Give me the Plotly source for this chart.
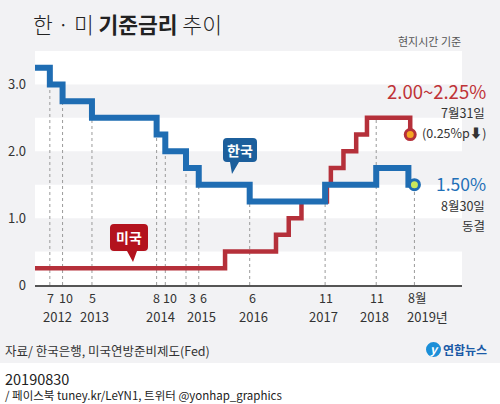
import plotly.graph_objects as go

# ---------------- data ----------------
KR_DATES = ["2012-03-28", "2012-07-12", "2012-10-11", "2013-05-09", "2014-08-14",
            "2014-10-15", "2015-03-12", "2015-06-11", "2016-06-09", "2017-11-30",
            "2018-11-30", "2019-07-18", "2019-08-30"]
KR_RATES = [3.25, 3.00, 2.75, 2.50, 2.25, 2.00, 1.75, 1.50, 1.25, 1.50, 1.75, 1.50, 1.50]

US_DATES = ["2012-03-28", "2015-12-16", "2016-12-14", "2017-03-15", "2017-06-14",
            "2017-12-13", "2018-01-10", "2018-04-10", "2018-07-10", "2018-09-25",
            "2019-07-31"]
US_RATES = [0.25, 0.50, 0.75, 1.00, 1.25, 1.50, 1.75, 2.00, 2.25, 2.50, 2.25]

GUIDE_DATES = ["2012-07-12", "2012-10-11", "2013-05-09", "2014-08-14", "2014-10-15",
               "2015-03-12", "2015-06-11", "2016-06-09", "2017-11-30", "2018-11-30",
               "2019-08-30"]
GUIDE_TOPS = [3.00, 2.75, 2.50, 2.25, 2.00, 1.75, 1.50, 1.25, 1.50, 2.50, 1.50]

MONTH_LABELS = ["7", "10", "5", "8", "10", "3", "6", "6", "11", "11", "8월"]
YEAR_LABELS = ["2012", "2013", "2014", "2015", "2016", "2017", "2018", "2019년"]
YEAR_DATES = ["2012-09-08", "2013-05-30", "2014-09-13", "2015-07-01", "2016-07-08",
              "2017-11-15", "2018-11-20", "2019-12-05"]

Y_TICKS = [0, 1, 2, 3]
Y_TICK_TEXT = ["0", "1.0", "2.0", "3.0"]
BANDS = [(0.5, 1.0), (1.5, 2.0), (2.5, 3.0)]

X_RANGE = ["2012-03-28", "2020-08-04"]
Y_RANGE = [0, 3.5]

# ---------------- layout helpers ----------------
W, H = 500, 404
L, R, T, B = 35, 38, 51, 119
PW, PH = W - L - R, H - T - B
FONT = "Noto Sans CJK KR, Noto Sans, sans-serif"
BLUE = "#1f6db3"
RED = "#b5303a"
BG = "#f2f2f4"
# small horizontal nudges (px) of month labels to avoid collisions
MONTH_NUDGE = [1, 3, 1, 0, 5, 6, 5, 3, 1, 1, 3]


def px(x):
    return (x - L) / PW


def py(y):
    return (H - B - y) / PH


def pt(x, y):
    return f"{px(x):.5f},{py(y):.5f}"


def bubble(x0, y0, x1, y1, r, tx0, tx1, tipx, tipy):
    return ("M" + pt(x0 + r, y0) + " L" + pt(x1 - r, y0) + " Q" + pt(x1, y0) + " " + pt(x1, y0 + r)
            + " L" + pt(x1, y1 - r) + " Q" + pt(x1, y1) + " " + pt(x1 - r, y1)
            + " L" + pt(tx1, y1) + " L" + pt(tipx, tipy) + " L" + pt(tx0, y1)
            + " L" + pt(x0 + r, y1) + " Q" + pt(x0, y1) + " " + pt(x0, y1 - r)
            + " L" + pt(x0, y0 + r) + " Q" + pt(x0, y0) + " " + pt(x0 + r, y0) + " Z")


fig = go.Figure()

# US line (under) and Korea line (over)
fig.add_trace(go.Scatter(x=US_DATES, y=US_RATES, mode="lines", line_shape="hv",
                         line=dict(color=RED, width=4.5), hoverinfo="skip"))
fig.add_trace(go.Scatter(x=KR_DATES, y=KR_RATES, mode="lines", line_shape="hv",
                         line=dict(color=BLUE, width=6), hoverinfo="skip"))
# end markers
fig.add_trace(go.Scatter(x=US_DATES[-1:], y=US_RATES[-1:], mode="markers",
                         marker=dict(size=10, color="#f5a623", line=dict(color=RED, width=3)),
                         hoverinfo="skip"))
fig.add_trace(go.Scatter(x=KR_DATES[-1:], y=KR_RATES[-1:], mode="markers",
                         marker=dict(size=10, color="#c9e85c", line=dict(color=BLUE, width=3)),
                         hoverinfo="skip"))

shapes = []
# outer bottom white strip
shapes.append(dict(type="rect", xref="paper", yref="paper", x0=px(0), x1=px(W), y0=py(363), y1=py(H),
                   fillcolor="white", line=dict(width=0), layer="below"))
# bands
for b0, b1 in BANDS:
    shapes.append(dict(type="rect", xref="paper", yref="y", x0=0, x1=1, y0=b0, y1=b1,
                       fillcolor=BG, line=dict(width=0), layer="below"))
# dotted guides
for d, top in zip(GUIDE_DATES, GUIDE_TOPS):
    shapes.append(dict(type="line", xref="x", yref="y", x0=d, x1=d, y0=0, y1=top,
                       line=dict(color="#9a9a9a", width=1, dash="dot"), layer="below"))
# speech bubbles
shapes.append(dict(type="path", xref="paper", yref="paper",
                   path=bubble(223, 138, 257, 162, 4, 230, 239, 232, 174),
                   fillcolor="#1c5f9c", line=dict(width=0)))
shapes.append(dict(type="path", xref="paper", yref="paper",
                   path=bubble(110, 224, 148, 251, 4, 127, 137, 133, 262),
                   fillcolor="#b3121d", line=dict(width=0)))
# logo circle
shapes.append(dict(type="circle", xref="paper", yref="paper",
                   x0=px(426), x1=px(441), y0=py(342), y1=py(357),
                   fillcolor="#1b8fd8", line=dict(width=0)))

ann = []


def text(s, x, y, size, color="#333", xanchor="left", yanchor="middle", xref="paper", **kw):
    ann.append(dict(text=s, x=px(x) if xref == "paper" else x, y=py(y), xref=xref, yref="paper",
                    xanchor=xanchor, yanchor=yanchor, showarrow=False,
                    font=dict(family=FONT, size=size, color=color, **kw)))


text("한 · 미 <b>기준금리</b> 추이", 31, 24, 21.5, "#222", weight=300)
text("현지시간 기준", 463, 41, 11, "#555", xanchor="right")

text("2.00~2.25%", 488, 91, 18.5, "#bf3337", xanchor="right")
text("7월31일", 487, 112, 12.5, "#333", xanchor="right")
text("(0.25%p<b>⬇</b>)", 489, 132, 12.5, "#333", xanchor="right")
text("1.50%", 488, 183, 17.5, "#1f70b8", xanchor="right")
text("8월30일", 487, 205, 12.5, "#333", xanchor="right")
text("동결", 487, 225, 12.5, "#333", xanchor="right")

text("<b>한국</b>", 240, 150, 14, "white", xanchor="center")
text("<b>미국</b>", 129, 237, 14, "white", xanchor="center")

for lab, d, nx in zip(MONTH_LABELS, GUIDE_DATES, MONTH_NUDGE):
    ann.append(dict(text=lab, x=d, y=py(297), xref="x", yref="paper", xanchor="center",
                    yanchor="middle", xshift=nx, showarrow=False,
                    font=dict(family=FONT, size=12.5, color="#333")))
for lab, d in zip(YEAR_LABELS, YEAR_DATES):
    ann.append(dict(text=lab, x=d, y=py(316), xref="x", yref="paper", xanchor="center",
                    yanchor="middle", showarrow=False,
                    font=dict(family=FONT, size=13, color="#333")))

text("자료/ 한국은행, 미국연방준비제도(Fed)", 3, 350, 12.5, "#333")
text("<b><i>y</i></b>", 433.5, 348, 12, "white", xanchor="center")
text("<b>연합뉴스</b>", 441, 349, 12, "#1b5aa6")
text("20190830", 3, 378, 14.5, "#222")
text("/ 페이스북 tuney.kr/LeYN1, 트위터 @yonhap_graphics", 3, 395, 11.5, "#222")

fig.update_layout(
    width=W, height=H, margin=dict(l=L, r=R, t=T, b=B, pad=0, autoexpand=False),
    paper_bgcolor=BG, plot_bgcolor="white", showlegend=False,
    shapes=shapes, annotations=ann,
    xaxis=dict(type="date", range=X_RANGE, showgrid=False, zeroline=False, automargin=False,
               showticklabels=False, ticks="", showline=True, linecolor="#555", linewidth=1.5,
               fixedrange=True),
    yaxis=dict(range=Y_RANGE, tickvals=Y_TICKS, ticktext=Y_TICK_TEXT, showgrid=False,
               zeroline=False, showline=False, ticks="", ticklabelstandoff=8, automargin=False,
               tickfont=dict(family=FONT, size=13, color="#333"), fixedrange=True),
)

fig.write_html("out.html", config={"displayModeBar": False},
               post_script="document.body.style.margin='0px';document.body.style.background='%s';" % BG)
